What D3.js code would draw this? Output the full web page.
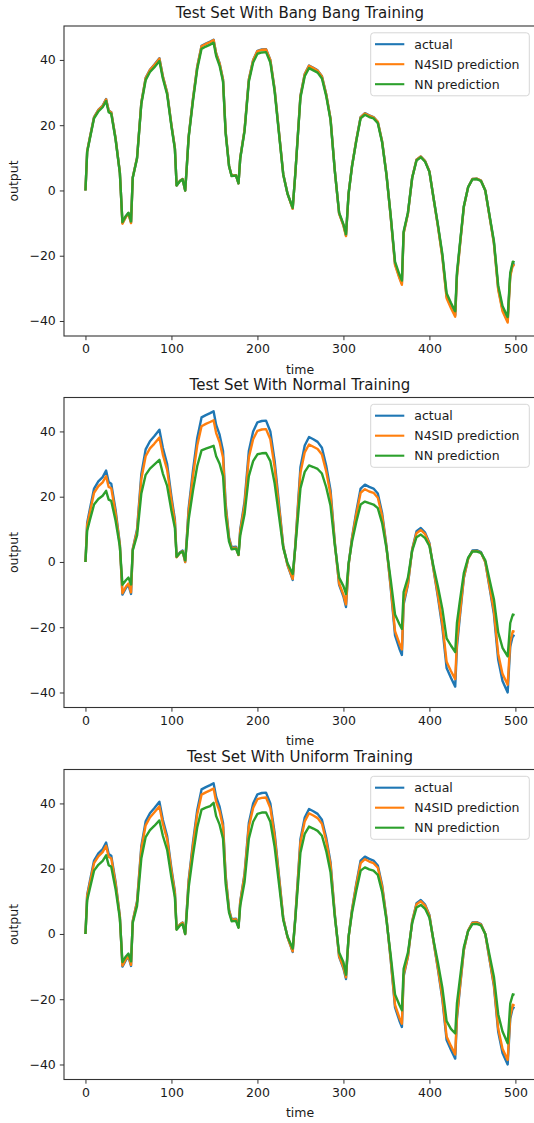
<!DOCTYPE html>
<html>
<head>
<meta charset="utf-8">
<script src="https://cdn.jsdelivr.net/npm/d3@7"></script>
<style>
  body { margin: 0; background: #fff; }
  text { font-family: "DejaVu Sans", sans-serif; fill: #1a1a1a; }
</style>
</head>
<body>
<svg id="fig" width="534" height="1123"></svg>
<script>
// values
const time = [0, 2, 5, 10, 15, 20, 24, 27, 30, 35, 40, 43, 47, 50, 53, 55, 60, 65, 70, 75,
  80, 86, 90, 95, 100, 104, 106, 110, 113, 116, 118, 120, 125, 130, 135, 140, 145, 149, 152, 156,
  160, 163, 167, 170, 175, 178, 180, 185, 190, 195, 200, 205, 210, 215, 220, 225, 230, 235, 241, 244,
  250, 255, 260, 265, 270, 275, 280, 285, 290, 295, 300, 303, 306, 310, 315, 320, 325, 330, 335, 340,
  345, 350, 355, 360, 365, 368, 370, 375, 380, 385, 390, 395, 400, 405, 410, 415, 420, 425, 430, 432,
  435, 440, 445, 450, 455, 460, 465, 470, 475, 480, 485, 491, 494, 497, 499];

const actual = [0, 12, 16, 22.5, 24.7, 26, 28, 24.5, 24, 16, 5.5, -10, -8, -7, -9.8, 4, 10, 27, 34.5, 37,
  38.5, 40.5, 35, 30, 20, 13, 1.5, 3, 3.5, 0, 8, 16.5, 28, 38, 44.3, 45, 45.6, 46.2, 42, 39,
  34, 18, 7.5, 4.5, 4.7, 2.2, 10, 18.5, 34, 40, 42.8, 43.2, 43.3, 40, 31, 18, 5, -1, -5.5, 5,
  29, 35.7, 38.3, 37.6, 36.8, 35, 29.5, 22, 6, -7, -10.6, -13.8, -1, 7.5, 15.5, 22.5, 23.7, 23, 22.5, 21,
  15, 5, -8, -22.5, -26.5, -28.5, -13, -7, 4, 9.4, 10.4, 9, 5.8, -2.7, -11, -20, -32.5, -35.5, -38.2, -26,
  -18, -5, 1, 3.5, 3.6, 3, 0, -8, -16, -30, -36.5, -40, -26, -22.5, -22.8];

const n4sidBang = [0, 12, 16, 22.4, 24.6, 25.9, 27.9, 24.4, 23.9, 16, 5.5, -10.2, -8.1, -7.1, -10, 4, 10, 26.9, 34.4, 36.9,
  38.4, 40.4, 34.9, 29.9, 20, 13, 1.5, 3, 3.5, 0, 8, 16.5, 27.9, 37.9, 44.2, 44.9, 45.5, 46.1, 41.9, 38.9,
  33.9, 18, 7.5, 4.5, 4.7, 2.2, 10, 18.5, 33.9, 39.9, 42.7, 43.1, 43.2, 39.9, 30.9, 18, 5, -1, -5.6, 5,
  28.9, 35.6, 38.2, 37.5, 36.7, 34.9, 29.4, 22, 6, -7.1, -10.8, -14, -1, 7.5, 15.5, 22.4, 23.6, 22.9, 22.4, 21,
  15, 5, -8.1, -22.8, -26.8, -28.9, -13.2, -7.1, 4, 9.4, 10.4, 9, 5.8, -2.7, -11.2, -20.3, -33, -36, -38.7, -26.4,
  -18.3, -5.1, 1, 3.5, 3.6, 3, 0, -8.1, -16.2, -30.4, -37, -40.5, -26.4, -22.8, -23.1];

const nnBang = [0, 11.8, 15.7, 22.1, 24.2, 25.5, 27.4, 24, 23.5, 15.7, 5.4, -9.7, -7.8, -6.8, -9.5, 3.9, 9.8, 26.5, 33.8, 36.3,
  37.7, 39.7, 34.3, 29.4, 19.6, 12.7, 1.5, 2.9, 3.4, 0, 7.8, 16.2, 27.4, 37.2, 43.4, 44.1, 44.7, 45.3, 41.2, 38.2,
  33.3, 17.6, 7.4, 4.4, 4.6, 2.2, 9.8, 18.1, 33.3, 39.2, 41.9, 42.3, 42.4, 39.2, 30.4, 17.6, 4.9, -1, -5.3, 4.9,
  28.4, 35, 37.5, 36.8, 36.1, 34.3, 28.9, 21.6, 5.9, -6.8, -10.3, -13.4, -1, 7.4, 15.2, 22.1, 23.2, 22.5, 22.1, 20.6,
  14.7, 4.9, -7.8, -21.8, -25.7, -27.6, -12.6, -6.8, 3.9, 9.2, 10.2, 8.8, 5.7, -2.6, -10.7, -19.4, -31.5, -34.4, -37, -25.2,
  -17.5, -4.9, 1, 3.4, 3.5, 2.9, 0, -7.8, -15.5, -29.1, -35.4, -38.8, -25.2, -21.8, -22.1];

const n4sidNormal = [0, 11.3, 15, 21.2, 23.2, 24.4, 26.3, 23, 22.6, 15, 5.2, -9.6, -7.6, -6.6, -9.3, 3.8, 9.4, 25.4, 32.4, 34.8,
  36.2, 38.1, 32.9, 28.2, 18.8, 12.2, 1.4, 2.8, 3.3, 0, 7.5, 15.5, 26.3, 35.7, 41.6, 42.3, 42.9, 43.4, 39.5, 36.7,
  32, 16.9, 7.1, 4.2, 4.4, 2.1, 9.4, 17.4, 32, 37.6, 40.2, 40.6, 40.7, 37.6, 29.1, 16.9, 4.7, -0.9, -5.2, 4.7,
  27.3, 33.6, 36, 35.3, 34.6, 32.9, 27.7, 20.7, 5.6, -6.6, -10, -13, -0.9, 7.1, 14.6, 21.2, 22.3, 21.6, 21.2, 19.7,
  14.1, 4.7, -7.5, -21.2, -24.9, -26.8, -12.2, -6.6, 3.8, 8.8, 9.8, 8.5, 5.5, -2.5, -10.3, -18.8, -30.6, -33.4, -35.9, -24.4,
  -16.9, -4.7, 0.9, 3.3, 3.4, 2.8, 0, -7.5, -15, -28.2, -34.3, -37.6, -24.4, -21.2, -21.4];

const nnNormal = [0, 9.6, 12.7, 17.6, 19.3, 20.3, 21.8, 19.1, 18.7, 12.7, 4.7, -7, -5.6, -4.8, -6.9, 3.5, 8.1, 21, 26.7, 28.6,
  29.8, 31.3, 27.1, 23.3, 15.7, 10.4, 1.6, 2.8, 3.2, 0.5, 6.6, 13, 21.8, 29.4, 34.2, 34.7, 35.2, 35.6, 32.4, 30.1,
  26.3, 14.2, 6.2, 3.9, 4.1, 2.2, 8.1, 14.6, 26.3, 30.9, 33, 33.3, 33.4, 30.9, 24.1, 14.2, 4.3, -0.4, -3.7, 4.3,
  22.5, 27.6, 29.6, 29.1, 28.5, 27.1, 22.9, 17.2, 5.1, -4.8, -7.4, -9.8, -0.4, 6.2, 12.3, 17.6, 18.5, 18, 17.6, 16.5,
  11.9, 4.3, -5.5, -16.1, -19, -20.5, -9.2, -4.8, 3.5, 7.6, 8.4, 7.3, 4.9, -1.7, -7.7, -14.3, -23.4, -25.6, -27.6, -18.7,
  -12.8, -3.4, 1.3, 3.2, 3.2, 2.8, 0.5, -5.5, -11.4, -21.6, -26.3, -28.9, -18.7, -16.1, -16.3];

const n4sidUniform = [0, 11.6, 15.4, 21.7, 23.8, 25.1, 27, 23.6, 23.2, 15.4, 5.3, -9.7, -7.7, -6.8, -9.5, 3.9, 9.7, 26.1, 33.3, 35.7,
  37.2, 39.1, 33.8, 29, 19.3, 12.5, 1.4, 2.9, 3.4, 0, 7.7, 15.9, 27, 36.7, 42.7, 43.4, 44, 44.6, 40.5, 37.6,
  32.8, 17.4, 7.2, 4.3, 4.5, 2.1, 9.7, 17.9, 32.8, 38.6, 41.3, 41.7, 41.8, 38.6, 29.9, 17.4, 4.8, -1, -5.3, 4.8,
  28, 34.5, 37, 36.3, 35.5, 33.8, 28.5, 21.2, 5.8, -6.8, -10.2, -13.3, -1, 7.2, 15, 21.7, 22.9, 22.2, 21.7, 20.3,
  14.5, 4.8, -7.7, -21.7, -25.6, -27.5, -12.5, -6.8, 3.9, 9.1, 10, 8.7, 5.6, -2.6, -10.6, -19.3, -31.4, -34.3, -36.9, -25.1,
  -17.4, -4.8, 1, 3.4, 3.5, 2.9, 0, -7.7, -15.4, -29, -35.2, -38.6, -25.1, -21.7, -22];

const nnUniform = [0, 10.3, 13.8, 19.4, 21.2, 22.4, 24.1, 21.1, 20.6, 13.8, 4.7, -8.6, -6.9, -6, -8.4, 3.4, 8.6, 23.2, 29.7, 31.8,
  33.1, 34.8, 30.1, 25.8, 17.2, 11.2, 1.3, 2.6, 3, 0, 6.9, 14.2, 24.1, 32.7, 38.1, 38.7, 39.2, 40.2, 36.1, 33.5,
  29.2, 15.5, 6.5, 3.9, 4, 1.9, 8.6, 15.9, 29.2, 34.4, 36.8, 37.2, 37.2, 34.4, 26.7, 15.5, 4.3, -0.8, -4.5, 4.3,
  24.9, 30.7, 32.9, 32.3, 31.6, 30.1, 25.4, 18.9, 5.2, -5.7, -8.7, -12.5, -0.8, 6.5, 13.3, 19.4, 20.4, 19.8, 19.4, 18.1,
  12.9, 4.3, -6.6, -18.5, -21.7, -23.4, -10.7, -5.7, 3.4, 8.1, 8.9, 7.7, 5, -2.2, -9, -16.4, -26.7, -29.1, -30.5, -21.3,
  -14.8, -4.1, 0.9, 3, 3.1, 2.6, 0, -6.6, -13.1, -24.6, -29.9, -33.5, -21.3, -18.5, -18.7];

const panelTitles = ["Test Set With Bang Bang Training", "Test Set With Normal Training", "Test Set With Uniform Training"];
const seriesNames = ["actual", "N4SID prediction", "NN prediction"];
const seriesColors = ["#1f77b4", "#ff7f0e", "#2ca02c"];
const xTicks = [0, 100, 200, 300, 400, 500];
const yTicks = [-40, -20, 0, 20, 40];

const panels = [
  { title: panelTitles[0], lines: [actual, n4sidBang, nnBang], top: 26 },
  { title: panelTitles[1], lines: [actual, n4sidNormal, nnNormal], top: 397.5 },
  { title: panelTitles[2], lines: [actual, n4sidUniform, nnUniform], top: 769.5 }
];

const svg = d3.select("#fig");
svg.append("rect").attr("width", 534).attr("height", 1123).attr("fill", "#fff");

const plotLeft = 64, plotRight = 536, plotHeight = 310;
const x = d3.scaleLinear().domain([-24.95, 523.95]).range([plotLeft, plotRight]);

panels.forEach((p, i) => {
  const y = d3.scaleLinear().domain([-44.6, 50.4]).range([p.top + plotHeight, p.top]);
  const g = svg.append("g");

  const clipId = "clip" + i;
  g.append("clipPath").attr("id", clipId)
    .append("rect").attr("x", plotLeft).attr("y", p.top)
    .attr("width", plotRight - plotLeft).attr("height", plotHeight);

  const line = d3.line().x((d, j) => x(time[j])).y(d => y(d));
  const lineG = g.append("g").attr("clip-path", "url(#" + clipId + ")");
  p.lines.forEach((vals, k) => {
    lineG.append("path")
      .attr("d", line(vals))
      .attr("fill", "none")
      .attr("stroke", seriesColors[k])
      .attr("stroke-width", 2.4)
      .attr("stroke-linejoin", "round");
  });

  // axes
  const xAxis = g.append("g").attr("transform", "translate(0," + (p.top + plotHeight) + ")")
    .call(d3.axisBottom(x).tickValues(xTicks).tickFormat(d3.format("d")).tickSize(4.2).tickPadding(4));
  const yAxis = g.append("g").attr("transform", "translate(" + plotLeft + ",0)")
    .call(d3.axisLeft(y).tickValues(yTicks).tickFormat(d3.format("d")).tickSize(4.2).tickPadding(4));
  [xAxis, yAxis].forEach(a => {
    a.select(".domain").remove();
    a.selectAll(".tick line").attr("stroke", "#333").attr("stroke-width", 1);
    a.selectAll(".tick text").attr("font-size", 12.5).attr("font-family", "DejaVu Sans").attr("fill", "#1a1a1a");
  });

  g.append("rect")
    .attr("x", plotLeft).attr("y", p.top)
    .attr("width", plotRight - plotLeft).attr("height", plotHeight)
    .attr("fill", "none").attr("stroke", "#333").attr("stroke-width", 1.1);

  // labels
  g.append("text").attr("x", (plotLeft + plotRight) / 2).attr("y", p.top - 8)
    .attr("text-anchor", "middle").attr("font-size", 15).text(p.title);
  g.append("text").attr("x", (plotLeft + plotRight) / 2).attr("y", p.top + plotHeight + 37.5)
    .attr("text-anchor", "middle").attr("font-size", 12.5).text("time");
  g.append("text")
    .attr("transform", "translate(17.5," + (p.top + plotHeight / 2) + ") rotate(-90)")
    .attr("text-anchor", "middle").attr("font-size", 12.5).text("output");

  // legend
  const lg = g.append("g").attr("transform", "translate(370.7," + (p.top + 6.8) + ")");
  lg.append("rect").attr("width", 158.6).attr("height", 63).attr("rx", 3)
    .attr("fill", "#fff").attr("fill-opacity", 0.8)
    .attr("stroke", "#d6d6d6").attr("stroke-width", 1);
  seriesNames.forEach((name, k) => {
    const yy = 11.4 + k * 20;
    lg.append("line").attr("x1", 4.3).attr("x2", 33.6).attr("y1", yy).attr("y2", yy)
      .attr("stroke", seriesColors[k]).attr("stroke-width", 2.1);
    lg.append("text").attr("x", 43.6).attr("y", yy + 4.5).attr("font-size", 12.5).text(name);
  });
});
</script>
</body>
</html>
